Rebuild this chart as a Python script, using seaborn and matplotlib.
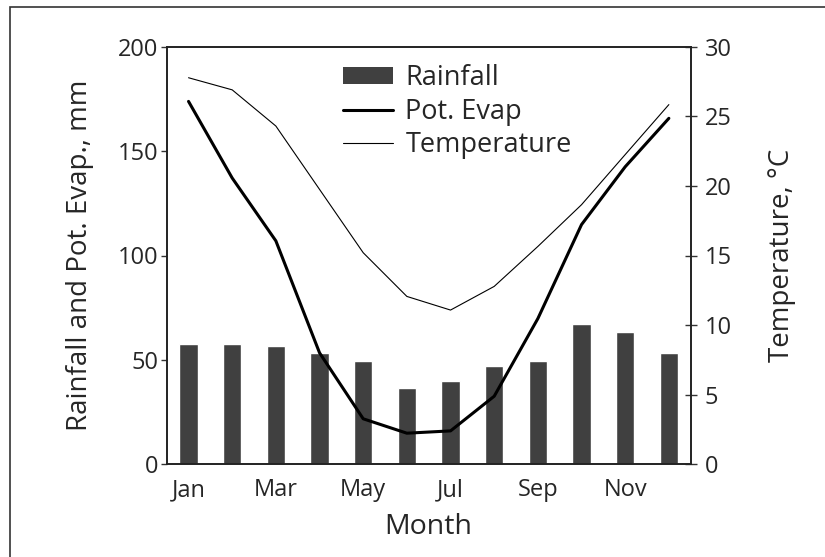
import matplotlib
matplotlib.use("Agg")
import matplotlib.pyplot as plt
import seaborn as sns
import pandas as pd
import numpy as np
from matplotlib.patches import Rectangle, Patch
from matplotlib.lines import Line2D

months = ["Jan", "Feb", "Mar", "Apr", "May", "Jun", "Jul", "Aug", "Sep", "Oct", "Nov", "Dec"]
rainfall = [57.4, 57.4, 56.5, 53.1, 49.7, 36.7, 40.1, 47.3, 49.7, 67.1, 63.2, 53.1]
pot_evap = [173.8, 137.1, 107.0, 53.4, 21.8, 14.9, 16.0, 32.6, 69.8, 114.8, 142.5, 165.7]
temperature = [27.77, 26.9, 24.3, 19.75, 15.2, 12.06, 11.08, 12.78, 15.65, 18.65, 22.25, 25.84]
xtick_labels = ["Jan", "", "Mar", "", "May", "", "Jul", "", "Sep", "", "Nov", ""]

df = pd.DataFrame({"Month": months, "Rainfall": rainfall,
                   "PotEvap": pot_evap, "Temperature": temperature})
df["pos"] = np.arange(len(months))

sns.set_theme(style="white")
plt.rcParams["font.family"] = ["Open Sans", "DejaVu Sans"]

W, H = 825, 557
fig = plt.figure(figsize=(W / 100, H / 100), dpi=100)
ax = fig.add_axes([166.7 / W, 1 - 464.3 / H, (690.7 - 166.7) / W, (464.3 - 46.7) / H])

bar_color = "#404040"
sns.barplot(data=df, x="pos", y="Rainfall", color=bar_color, width=0.42,
            saturation=1, ax=ax, native_scale=True)
sns.lineplot(data=df, x="pos", y="PotEvap", color="black", linewidth=2.2, ax=ax)
ax2 = ax.twinx()
sns.lineplot(data=df, x="pos", y="Temperature", color="black", linewidth=0.8, ax=ax2)

ax.set_xlim(-0.5, len(months) - 0.5)
ax.set_ylim(0, 200)
ax2.set_ylim(0, 30)
ax.set_yticks([0, 50, 100, 150, 200])
ax2.set_yticks([0, 5, 10, 15, 20, 25, 30])

ax.set_xticks(np.arange(len(months)))
ax.set_xticklabels(xtick_labels)
ax.set_xticks(np.arange(-0.5, len(months)), minor=True)
ax.tick_params(axis="x", which="major", length=0, pad=10, labelsize=17)
ax.tick_params(axis="x", which="minor", direction="inout", length=10, width=1, color="#333333")
ax.tick_params(axis="y", direction="out", length=4, width=1, color="#333333", labelsize=17, pad=2, left=True)
ax2.tick_params(axis="y", direction="inout", length=8.5, width=1, color="#333333", labelsize=17, pad=6, right=True)

ax.set_xlabel("Month", fontsize=20.5, labelpad=8)
ax.set_ylabel("Rainfall and Pot. Evap., mm", fontsize=20, labelpad=17)
ax2.set_ylabel("Temperature, \u00b0C", fontsize=20, labelpad=26)

for a in (ax, ax2):
    for s in a.spines.values():
        s.set_color("#222222")
        s.set_linewidth(1.2)

handles = [Patch(facecolor=bar_color, edgecolor="none"),
           Line2D([], [], color="black", linewidth=2.2),
           Line2D([], [], color="black", linewidth=0.8)]
ax2.legend(handles, ["Rainfall", "Pot. Evap", "Temperature"], loc="upper left",
           bbox_to_anchor=((343 - 166.7) / 524, 0.958), frameon=False, fontsize=19.5,
           handlelength=1.85, handleheight=0.6, handletextpad=0.45, labelspacing=0.2,
           borderpad=0, borderaxespad=0)

fig.patches.append(Rectangle((10 / W, -0.1), 1.2, 1 - 7 / H + 0.1, transform=fig.transFigure,
                             fill=False, edgecolor="#333333", linewidth=1.2))

fig.savefig("out.png", dpi=100)
